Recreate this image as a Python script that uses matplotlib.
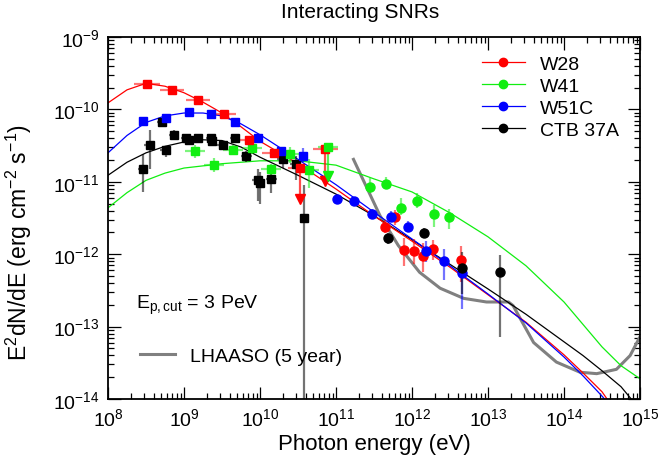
import numpy as np
import matplotlib.pyplot as plt
from matplotlib.lines import Line2D
from matplotlib.ticker import LogLocator, NullFormatter

plt.rcParams['font.family'] = ['Liberation Sans', 'DejaVu Sans']
plt.rcParams['mathtext.fontset'] = 'custom'
plt.rcParams['mathtext.rm'] = 'Liberation Sans'
plt.rcParams['mathtext.it'] = 'Liberation Sans:italic'
plt.rcParams['mathtext.bf'] = 'Liberation Sans:bold'

# all values: log10(E / eV) and log10(E^2 dN/dE / erg cm^-2 s^-1)
# --- model curves ---
grid_rb = [8.0, 8.25, 8.5, 8.75, 9.0, 9.25, 9.5, 9.75, 10.0, 10.5, 11.0, 11.5,
           12.0, 12.5, 13.0, 13.5, 14.0, 14.25, 14.5, 14.6]
w28_model = [-9.91, -9.73, -9.64, -9.68, -9.77, -9.90, -10.05, -10.24, -10.44, -10.75,
             -11.10, -11.47, -11.82, -12.18, -12.56, -12.94, -13.39, -13.64, -13.90, -14.05]
w51c_model = [-10.60, -10.36, -10.18, -10.09, -10.05, -10.05, -10.09, -10.20, -10.35, -10.69,
              -11.04, -11.42, -11.79, -12.16, -12.55, -12.95, -13.42, -13.68, -13.96, -14.08]
grid_ctb = [8.0, 8.25, 8.5, 8.75, 9.0, 9.25, 9.5, 9.75, 10.0, 10.5, 11.0, 11.5,
            12.0, 12.5, 13.0, 13.5, 14.0, 14.25, 14.5, 14.75, 14.9]
ctb_model = [-10.91, -10.73, -10.60, -10.51, -10.45, -10.42, -10.43, -10.52, -10.66, -10.91,
             -11.17, -11.47, -11.80, -12.14, -12.48, -12.83, -13.21, -13.40, -13.61, -13.83, -14.02]
grid_w41 = [8.0, 8.25, 8.5, 8.75, 9.0, 9.25, 9.5, 10.0, 10.5, 11.0, 11.5, 12.0,
            12.5, 13.0, 13.5, 14.0, 14.5, 14.75, 15.0]
w41_model = [-11.36, -11.15, -10.98, -10.88, -10.81, -10.78, -10.75, -10.71, -10.71, -10.77,
             -10.96, -11.14, -11.43, -11.76, -12.16, -12.66, -13.28, -13.54, -13.72]

# LHAASO 5 yr sensitivity
lhaaso_e = [11.23, 11.58, 11.82, 12.10, 12.37, 12.68, 12.98, 13.27, 13.33, 13.60,
            13.90, 14.21, 14.43, 14.69, 14.87, 15.0]
lhaaso_f = [-10.69, -11.47, -11.88, -12.25, -12.47, -12.61, -12.66, -12.66, -12.71, -13.22,
            -13.49, -13.63, -13.65, -13.59, -13.40, -13.14]

# --- Fermi-LAT points (squares) ---
w28_sq_e = [8.51, 8.84, 9.18, 9.52, 9.85, 10.18]
w28_sq_f = [-9.65, -9.73, -9.87, -10.06, -10.42, -10.60]
w28_sq_lo = [0.03, 0.03, 0.03, 0.04, 0.05, 0.05]
w28_sq_hi = [0.03, 0.03, 0.03, 0.04, 0.05, 0.05]
w28_sq_xe = [0.17, 0.16, 0.16, 0.16, 0.16, 0.16]
w28_ul_e = [10.53, 10.86]
w28_ul_f = [-10.81, -10.55]
w28_ul_end = [-11.24, -10.99]

w41_sq_e = [9.14, 9.39, 9.64, 9.90, 10.14, 10.39, 10.64]
w41_sq_f = [-10.58, -10.77, -10.56, -10.54, -10.83, -10.62, -10.84]
w41_sq_lo = [0.09, 0.10, 0.07, 0.07, 0.10, 0.12, 0.25]
w41_sq_hi = [0.09, 0.10, 0.07, 0.07, 0.07, 0.10, 0.15]
w41_sq_xe = [0.13, 0.13, 0.13, 0.13, 0.13, 0.13, 0.13]
w41_ul_e = [10.89]
w41_ul_f = [-10.52]
w41_ul_end = [-10.92]

w51c_sq_e = [8.46, 8.76, 9.07, 9.36, 9.67, 9.97, 10.28, 10.57]
w51c_sq_f = [-10.16, -10.12, -10.03, -10.07, -10.17, -10.39, -10.57, -10.65]
w51c_sq_lo = [0.02, 0.02, 0.02, 0.02, 0.03, 0.04, 0.05, 0.08]
w51c_sq_hi = [0.02, 0.02, 0.02, 0.02, 0.03, 0.04, 0.05, 0.12]

ctb_sq_e = [8.46, 8.55, 8.71, 8.76, 8.87, 9.03, 9.07, 9.18, 9.36, 9.37, 9.51, 9.67,
            9.82, 9.97, 10.00, 10.15, 10.30, 10.47, 10.58]
ctb_sq_f = [-10.82, -10.49, -10.18, -10.56, -10.36, -10.39, -10.42, -10.39, -10.39, -10.44,
            -10.49, -10.40, -10.65, -10.97, -11.01, -10.96, -10.69, -10.75, -11.50]
ctb_sq_lo = [0.32, 0.33, 0.06, 0.10, 0.05, 0.03, 0.04, 0.04, 0.03, 0.04, 0.06, 0.05,
             0.08, 0.30, 0.30, 0.20, 0.12, 0.22, 3.0]
ctb_sq_hi = [0.20, 0.20, 0.06, 0.05, 0.07, 0.03, 0.04, 0.04, 0.03, 0.04, 0.05, 0.05,
             0.07, 0.15, 0.15, 0.12, 0.12, 0.10, 0.45]
ctb_sq_xe = [0.07, 0.07, 0.07, 0.07, 0.07, 0.07, 0.07, 0.07, 0.07, 0.07, 0.07, 0.07,
             0.07, 0.07, 0.07, 0.07, 0.07, 0.07, 0.0]

# --- IACT points (circles) ---
w28_c_e = [11.64, 11.77, 11.89, 12.02, 12.14, 12.27, 12.64]
w28_c_f = [-11.63, -11.49, -11.94, -11.95, -12.02, -11.93, -12.08]
w28_c_lo = [0.08, 0.10, 0.22, 0.18, 0.22, 0.15, 0.30]
w28_c_hi = [0.10, 0.10, 0.16, 0.16, 0.18, 0.12, 0.20]

w41_c_e = [11.45, 11.66, 11.86, 12.07, 12.29, 12.49]
w41_c_f = [-11.07, -11.03, -11.36, -11.26, -11.44, -11.49]
w41_c_lo = [0.08, 0.06, 0.10, 0.10, 0.18, 0.16]
w41_c_hi = [0.12, 0.10, 0.13, 0.10, 0.12, 0.12]

w51c_c_e = [11.01, 11.24, 11.48, 11.72, 11.95, 12.19, 12.42, 12.66]
w51c_c_f = [-11.24, -11.26, -11.45, -11.48, -11.62, -11.95, -12.09, -12.26]
w51c_c_lo = [0.06, 0.05, 0.07, 0.08, 0.08, 0.16, 0.26, 0.50]
w51c_c_hi = [0.06, 0.05, 0.07, 0.08, 0.08, 0.13, 0.16, 0.15]

ctb_c_e = [11.68, 12.16, 12.66, 13.16]
ctb_c_f = [-11.78, -11.71, -12.19, -12.25]
ctb_c_lo = [0.08, 0.07, 0.36, 0.90]
ctb_c_hi = [0.07, 0.07, 0.22, 0.24]

RED, GREEN, BLUE, BLACK = '#ff0000', '#11ee11', '#0000ff', '#000000'

fig = plt.figure(figsize=(6.64, 4.64), dpi=100)
ax = fig.add_axes([108/664, 1 - 400/464, 532/664, 362/464])


def pts(le, lf, lo, hi, col, mk, xe=None, ms=6):
    le, lf, lo, hi = map(np.array, (le, lf, lo, hi))
    x, y = 10**le, 10**lf
    yerr = [y - 10**(lf - lo), 10**(lf + hi) - y]
    xerr = None
    if xe is not None:
        xe = np.array(xe)
        xerr = [x - 10**(le - xe), 10**(le + xe) - x]
    ax.errorbar(x, y, yerr=yerr, xerr=xerr, fmt='none', ecolor=col,
                elinewidth=1.6, alpha=0.55, capsize=0, zorder=3)
    ax.plot(x, y, ls='none', marker=mk, color=col, ms=ms, zorder=4)


def uls(le, lf, lend, col):
    for e, f, g in zip(le, lf, lend):
        ax.plot([10**e, 10**e], [10**f, 10**g], color=col, lw=1.6, alpha=0.7, zorder=3)
        ax.plot(10**e, 10**g, marker='v', color=col, ms=7, zorder=3)


ax.plot(10**np.array(lhaaso_e), 10**np.array(lhaaso_f), color='#808080', lw=2.2, zorder=2)
ax.plot(10**np.array(grid_w41), 10**np.array(w41_model), color=GREEN, lw=0.9, zorder=2)
ax.plot(10**np.array(grid_ctb), 10**np.array(ctb_model), color=BLACK, lw=0.9, zorder=2)
ax.plot(10**np.array(grid_rb), 10**np.array(w28_model), color=RED, lw=0.9, zorder=2)
ax.plot(10**np.array(grid_rb), 10**np.array(w51c_model), color=BLUE, lw=0.9, zorder=2)

pts(ctb_sq_e, ctb_sq_f, ctb_sq_lo, ctb_sq_hi, BLACK, 's', ctb_sq_xe)
pts(w41_sq_e, w41_sq_f, w41_sq_lo, w41_sq_hi, GREEN, 's', w41_sq_xe)
pts(w51c_sq_e, w51c_sq_f, w51c_sq_lo, w51c_sq_hi, BLUE, 's')
pts(w28_sq_e, w28_sq_f, w28_sq_lo, w28_sq_hi, RED, 's', w28_sq_xe)
uls(w28_ul_e, w28_ul_f, w28_ul_end, RED)
uls(w41_ul_e, w41_ul_f, w41_ul_end, GREEN)
pts(w28_ul_e, w28_ul_f, [0, 0], [0, 0], RED, 's', [0.16, 0.16])
pts(w41_ul_e, w41_ul_f, [0], [0], GREEN, 's', [0.13])

pts(w41_c_e, w41_c_f, w41_c_lo, w41_c_hi, GREEN, 'o', ms=6.5)
pts(w28_c_e, w28_c_f, w28_c_lo, w28_c_hi, RED, 'o', ms=6.5)
pts(w51c_c_e, w51c_c_f, w51c_c_lo, w51c_c_hi, BLUE, 'o', ms=6.5)
pts(ctb_c_e, ctb_c_f, ctb_c_lo, ctb_c_hi, BLACK, 'o', ms=6.5)

ax.set_xscale('log')
ax.set_yscale('log')
ax.set_xlim(1e8, 1e15)
ax.set_ylim(1e-14, 1e-9)
for a in (ax.xaxis, ax.yaxis):
    a.set_major_locator(LogLocator(base=10, numticks=20))
    a.set_minor_locator(LogLocator(base=10, subs=np.arange(2, 10), numticks=100))
    a.set_minor_formatter(NullFormatter())
ax.tick_params(which='both', direction='in', top=True, right=True, labelsize=14, width=0.9)
ax.tick_params(which='major', length=9, pad=6)
ax.tick_params(which='minor', length=4.5)
for s in ax.spines.values():
    s.set_linewidth(1.3)

ax.set_xlabel('Photon energy (eV)', fontsize=16, labelpad=3)
ax.set_ylabel(r'E$^{2}$dN/dE (erg cm$^{-2}$ s$^{-1}$)', fontsize=16.5)
ax.yaxis.set_label_coords(-0.14, 0.435)
fig.text(360/664, 1 - 12/464, 'Interacting SNRs', ha='center', va='center', fontsize=15)

handles = [Line2D([], [], color=c, marker='o', ms=6, lw=0.9) for c in (RED, GREEN, BLUE, BLACK)]
leg = ax.legend(handles, ['W28', 'W41', 'W51C', 'CTB 37A'], loc='center left',
                bbox_to_anchor=(0.703, 0.834), frameon=False, fontsize=14,
                handlelength=2.2, handletextpad=0.8, labelspacing=0.22,
                borderpad=0, borderaxespad=0)
ax.add_artist(leg)
ax.legend([Line2D([], [], color='#808080', lw=2.2)], ['LHAASO (5 year)'], loc='center left',
          bbox_to_anchor=(0.06, 0.119), frameon=False, fontsize=14,
          handlelength=1.8, handletextpad=0.8, borderpad=0, borderaxespad=0)
ax.text(0.053, 0.262, r'E$_{\rm p,cut}$ = 3 PeV', transform=ax.transAxes, fontsize=14,
        va='center', ha='left')

fig.savefig('out.png', dpi=100)
